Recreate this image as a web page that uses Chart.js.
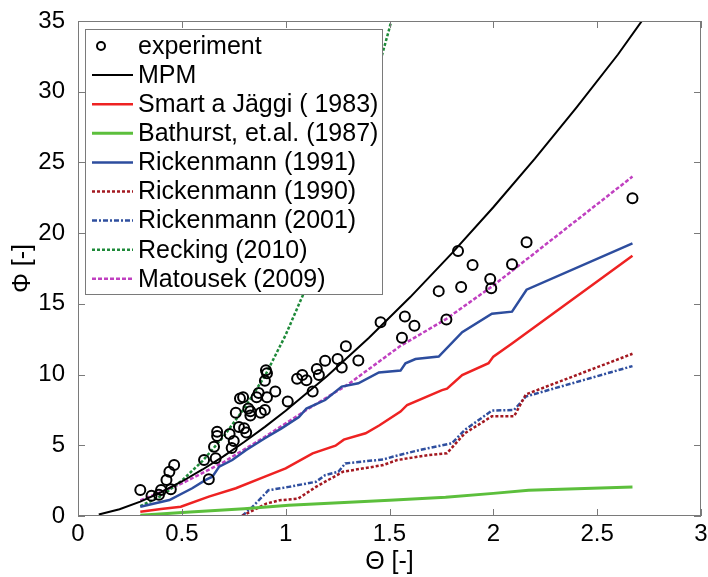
<!DOCTYPE html>
<html>
<head>
<meta charset="utf-8">
<script src="https://cdn.jsdelivr.net/npm/chart.js@4.4.0/dist/chart.umd.min.js"></script>
<style>
    body { margin: 0; background: #fff; }
    #wrap { width: 708px; height: 577px; }
</style>
</head>
<body>
<div id="wrap"><canvas id="chart" width="708" height="577"></canvas></div>
<script>
// tick labels
const xTickValues = [0, 0.5, 1, 1.5, 2, 2.5, 3];
const xTickLabels = ['0', '0.5', '1', '1.5', '2', '2.5', '3'];
const yTickValues = [0, 5, 10, 15, 20, 25, 30, 35];
const yTickLabels = ['0', '5', '10', '15', '20', '25', '30', '35'];

// experiment
const expTheta = [0.30, 0.354, 0.39, 0.40, 0.426, 0.44, 0.463, 0.447, 0.607, 0.63, 0.655, 0.67, 0.67, 0.663,
    0.73, 0.75, 0.74, 0.76, 0.775, 0.80, 0.81, 0.78, 0.795, 0.82, 0.83, 0.83, 0.86, 0.87, 0.88, 0.90,
    0.90, 0.91, 0.905, 0.91, 0.95, 1.01, 1.055, 1.08, 1.10, 1.13, 1.15, 1.16, 1.19, 1.25, 1.27, 1.29,
    1.35, 1.457, 1.56, 1.574, 1.62, 1.737, 1.774, 1.83, 1.845, 1.90, 1.985, 1.99, 2.09, 2.16, 2.67];
const expPhi = [1.84, 1.44, 1.5, 1.84, 2.55, 3.13, 3.6, 1.89, 3.96, 2.6, 4.9, 5.96, 5.66, 4.08,
    5.8, 5.3, 4.8, 7.3, 6.3, 6.2, 5.9, 8.3, 8.4, 7.6, 7.1, 7.4, 8.4, 8.7, 7.3, 7.5,
    9.57, 10.1, 10.3, 8.4, 8.8, 8.1, 9.7, 9.97, 9.6, 8.8, 10.4, 9.97, 10.98, 11.1, 10.5, 12.0,
    11.0, 13.7, 12.6, 14.1, 13.46, 15.9, 13.9, 18.74, 16.2, 17.75, 16.76, 16.1, 17.8, 19.36, 22.47];

// MPM
const mpmTheta = [0.1, 0.2, 0.3, 0.4, 0.5, 0.6, 0.7, 0.8, 0.9, 1.0, 1.2, 1.4, 1.6, 1.8, 2.0, 2.2, 2.4, 2.6, 2.72];
const mpmPhi = [0.1, 0.48, 1.02, 1.68, 2.44, 3.29, 4.22, 5.23, 6.3, 7.44, 9.9, 12.59, 15.48, 18.57, 21.83, 25.27, 28.88, 32.63, 35.1];

// Smart a Jäggi (1983)
const smartTheta = [0.3, 0.4, 0.495, 0.63, 0.76, 0.9, 1.0, 1.13, 1.24, 1.28, 1.385, 1.45, 1.553, 1.585, 1.753, 1.777, 1.85, 1.977, 2.0, 2.09, 2.67];
const smartPhi = [0.3, 0.5, 0.66, 1.37, 1.96, 2.78, 3.37, 4.43, 4.97, 5.4, 5.85, 6.4, 7.38, 7.85, 8.9, 9.0, 9.97, 10.8, 11.27, 12.2, 18.4];

// Bathurst, et.al. (1987)
const bathTheta = [0.3, 0.54, 0.8, 1.015, 1.5, 1.77, 2.0, 2.17, 2.67];
const bathPhi = [0.05, 0.28, 0.52, 0.76, 1.11, 1.32, 1.6, 1.82, 2.05];

// Rickenmann (1991)
const rick91Theta = [0.3, 0.44, 0.55, 0.615, 0.647, 0.68, 0.743, 0.81, 0.9, 0.98, 1.064, 1.1, 1.19, 1.27, 1.35, 1.449, 1.553, 1.577, 1.625, 1.737, 1.85, 1.993, 2.09, 2.16, 2.67];
const rick91Phi = [0.66, 1.13, 1.96, 2.55, 2.78, 3.49, 3.96, 4.67, 5.5, 6.2, 7.0, 7.6, 8.2, 9.15, 9.38, 10.15, 10.28, 10.8, 11.1, 11.27, 13.0, 14.3, 14.45, 16.0, 19.28];

// Rickenmann (1990)
const rick90Theta = [0.79, 0.907, 0.97, 1.06, 1.146, 1.276, 1.47, 1.537, 1.69, 1.776, 1.863, 1.993, 2.1, 2.157, 2.67];
const rick90Phi = [0, 0.88, 1.11, 1.23, 2.06, 3.13, 3.6, 3.96, 4.31, 4.43, 5.85, 7.05, 7.05, 8.6, 11.47];

// Rickenmann (2001)
const rick01Theta = [0.79, 0.84, 0.917, 1.015, 1.146, 1.19, 1.254, 1.287, 1.47, 1.515, 1.646, 1.8, 1.863, 1.993, 2.1, 2.157, 2.67];
const rick01Phi = [0, 0.64, 1.82, 2.06, 2.42, 2.89, 3.13, 3.72, 4.0, 4.19, 4.67, 5.14, 6.09, 7.45, 7.5, 8.45, 10.6];

// Recking (2010)
const reckTheta = [0.3, 0.4, 0.5, 0.6, 0.7, 0.8, 0.9, 1.0, 1.1, 1.2, 1.3, 1.4, 1.5, 1.55];
const reckPhi = [0.7, 1.4, 2.5, 3.9, 5.6, 7.6, 9.9, 12.8, 16.2, 20.0, 24.3, 29.2, 34.5, 37.5];

// Matousek (2009)
const matTheta = [0.3, 0.5, 0.7, 0.9, 1.1, 1.3, 1.55, 1.77, 2.0, 2.2, 2.4, 2.67];
const matPhi = [1.1, 2.3, 3.8, 5.6, 7.5, 9.3, 12.0, 13.9, 16.3, 18.6, 20.9, 24.0];

const FONT = 'Liberation Sans, Arial, Helvetica, sans-serif';

function pts(xs, ys) {
    return xs.map((x, i) => ({ x: x, y: ys[i] }));
}

function lineSet(label, xs, ys, color, width, dash) {
    return {
        label: label,
        data: pts(xs, ys),
        showLine: true,
        borderColor: color,
        backgroundColor: color,
        borderWidth: width,
        borderDash: dash || [],
        pointRadius: 0,
        tension: 0,
        fill: false,
        clip: 0
    };
}

const datasets = [
    {
        label: 'experiment',
        data: pts(expTheta, expPhi),
        showLine: false,
        pointStyle: 'circle',
        pointRadius: 5,
        pointBorderWidth: 2,
        pointBorderColor: '#000',
        pointBackgroundColor: 'rgba(0,0,0,0)',
        borderColor: '#000',
        clip: 0
    },
    lineSet('MPM', mpmTheta, mpmPhi, '#000000', 2),
    lineSet('Smart a Jäggi ( 1983)', smartTheta, smartPhi, '#ee2222', 2.5),
    lineSet('Bathurst, et.al. (1987)', bathTheta, bathPhi, '#5cbf3c', 3),
    lineSet('Rickenmann (1991)', rick91Theta, rick91Phi, '#2d4d9e', 2.5),
    lineSet('Rickenmann (1990)', rick90Theta, rick90Phi, '#a31820', 2.5, [3, 2]),
    lineSet('Rickenmann (2001)', rick01Theta, rick01Phi, '#2f4f9f', 2.5, [5, 2, 2, 2]),
    lineSet('Recking (2010)', reckTheta, reckPhi, '#1f8a3a', 2.5, [3, 2]),
    lineSet('Matousek (2009)', matTheta, matPhi, '#c040c0', 2.5, [4, 2])
];

// box around the plot with MATLAB style inward ticks
const framePlugin = {
    id: 'frame',
    afterDatasetsDraw(chart) {
        const ctx = chart.ctx;
        const a = chart.chartArea;
        const xs = chart.scales.x, ys = chart.scales.y;
        ctx.save();
        ctx.strokeStyle = '#7a7a7a';
        ctx.lineWidth = 1;
        ctx.strokeRect(a.left + 0.5, a.top + 0.5, a.right - a.left - 1, a.bottom - a.top - 1);
        ctx.beginPath();
        xTickValues.forEach(v => {
            const px = Math.round(xs.getPixelForValue(v)) + 0.5;
            ctx.moveTo(px, a.bottom); ctx.lineTo(px, a.bottom - 7);
            ctx.moveTo(px, a.top); ctx.lineTo(px, a.top + 7);
        });
        yTickValues.forEach(v => {
            const py = Math.round(ys.getPixelForValue(v)) + 0.5;
            ctx.moveTo(a.left, py); ctx.lineTo(a.left + 7, py);
            ctx.moveTo(a.right, py); ctx.lineTo(a.right - 7, py);
        });
        ctx.stroke();
        ctx.restore();
    }
};

// legend box inside the plot, top left
const legendPlugin = {
    id: 'boxLegend',
    afterDraw(chart) {
        const ctx = chart.ctx;
        const box = { left: 85, top: 29, right: 383, bottom: 295 };
        ctx.save();
        ctx.fillStyle = '#fff';
        ctx.fillRect(box.left, box.top, box.right - box.left, box.bottom - box.top);
        ctx.strokeStyle = '#7a7a7a';
        ctx.lineWidth = 1;
        ctx.strokeRect(box.left + 0.5, box.top + 0.5, box.right - box.left - 1, box.bottom - box.top - 1);
        ctx.font = '25px ' + FONT;
        ctx.textBaseline = 'middle';
        chart.data.datasets.forEach((ds, i) => {
            const y = 46 + i * 29.1;
            if (ds.showLine === false) {
                ctx.beginPath();
                ctx.setLineDash([]);
                ctx.lineWidth = 2;
                ctx.strokeStyle = '#000';
                ctx.arc(101, y, 4, 0, Math.PI * 2);
                ctx.stroke();
            } else {
                ctx.beginPath();
                ctx.setLineDash(ds.borderDash);
                ctx.lineWidth = ds.borderWidth;
                ctx.strokeStyle = ds.borderColor;
                ctx.moveTo(92, y);
                ctx.lineTo(133, y);
                ctx.stroke();
            }
            ctx.setLineDash([]);
            ctx.fillStyle = '#000';
            ctx.fillText(ds.label, 138, y + 1);
        });
        ctx.restore();
    }
};

new Chart(document.getElementById('chart'), {
    type: 'scatter',
    data: { datasets: datasets },
    options: {
        responsive: false,
        animation: false,
        devicePixelRatio: 1,
        layout: { padding: { top: 21, right: 5, left: 0, bottom: 0 } },
        plugins: {
            legend: { display: false },
            tooltip: { enabled: false }
        },
        scales: {
            x: {
                type: 'linear',
                min: 0,
                max: 3,
                afterBuildTicks: s => { s.ticks = xTickValues.map(v => ({ value: v })); },
                afterFit: s => { s.height = 61; s.paddingRight = 0; s.paddingLeft = 0; },
                ticks: {
                    callback: (v, i) => xTickLabels[i],
                    font: { family: FONT, size: 24 },
                    color: '#000',
                    padding: -4,
                    maxRotation: 0,
                    autoSkip: false
                },
                grid: { display: false },
                border: { display: false },
                title: {
                    display: true,
                    text: 'Θ [-]',
                    font: { family: FONT, size: 25 },
                    color: '#000',
                    padding: { top: 0, bottom: 0 }
                }
            },
            y: {
                type: 'linear',
                min: 0,
                max: 35,
                afterBuildTicks: s => { s.ticks = yTickValues.map(v => ({ value: v })); },
                afterFit: s => { s.width = 78; },
                ticks: {
                    callback: (v, i) => yTickLabels[i],
                    font: { family: FONT, size: 24 },
                    color: '#000',
                    padding: 5
                },
                grid: { display: false },
                border: { display: false },
                title: {
                    display: true,
                    text: 'Φ [-]',
                    font: { family: FONT, size: 25 },
                    color: '#000',
                    padding: { top: 8, bottom: 0 }
                }
            }
        }
    },
    plugins: [framePlugin, legendPlugin]
});
</script>
</body>
</html>
